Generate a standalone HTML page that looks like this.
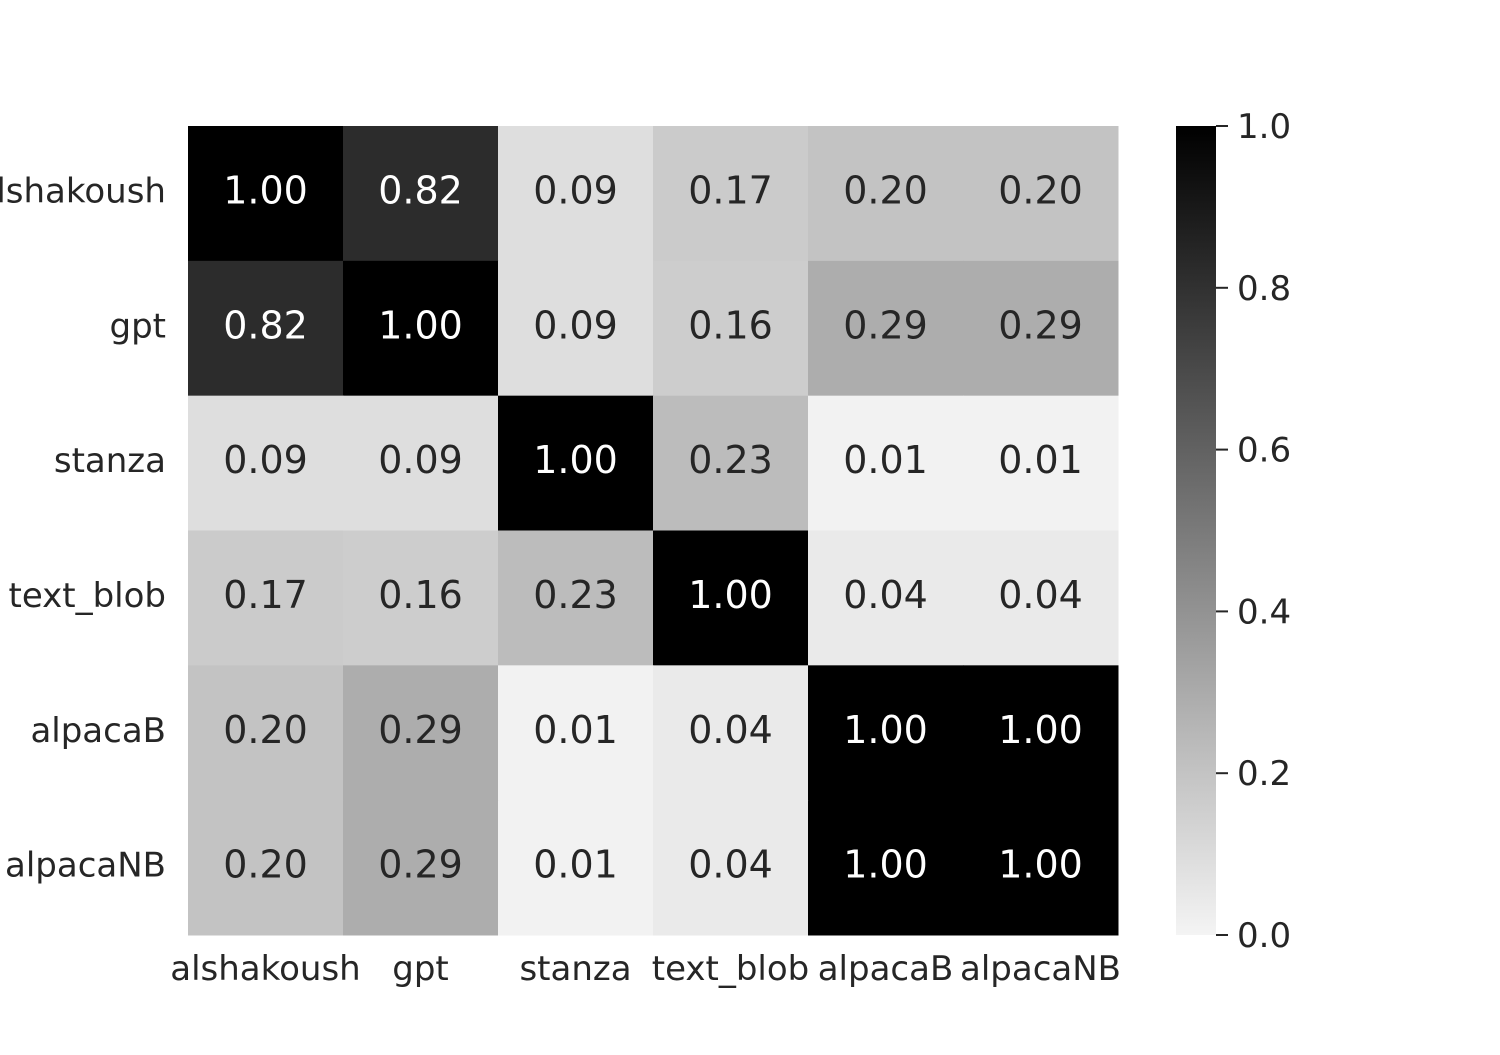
<!DOCTYPE html>
<html><head><meta charset="utf-8"><style>
body{margin:0;background:#fff;}
svg text{font-family:"DejaVu Sans","Liberation Sans",sans-serif;}
</style></head><body>
<svg id="chart" width="1500" height="1050" xmlns="http://www.w3.org/2000/svg">
<defs><linearGradient id="cbg" x1="0" y1="1" x2="0" y2="0">
<stop offset="0" stop-color="rgb(244,244,244)"/><stop offset="1" stop-color="rgb(0,0,0)"/></linearGradient></defs>
<g id="cells"></g>
<rect x="1176" y="126" width="40" height="809" fill="url(#cbg)"/>
<g id="cbticks"></g>
</svg>
<script>
const labels=["alshakoush","gpt","stanza","text_blob","alpacaB","alpacaNB"];
const values=[
[1.00,0.82,0.09,0.17,0.20,0.20],
[0.82,1.00,0.09,0.16,0.29,0.29],
[0.09,0.09,1.00,0.23,0.01,0.01],
[0.17,0.16,0.23,1.00,0.04,0.04],
[0.20,0.29,0.01,0.04,1.00,1.00],
[0.20,0.29,0.01,0.04,1.00,1.00]];
const cbTicks=[0.0,0.2,0.4,0.6,0.8,1.0];
const NS="http://www.w3.org/2000/svg";
const x0=188,y0=126,cw=155,ch=809/6;
const cbX=1176,cbW=40,cbTop=126,cbBot=935;
function col(v){const g=Math.round(244*(1-v));return `rgb(${g},${g},${g})`;}
function mk(t,a,p){const e=document.createElementNS(NS,t);for(const k in a)e.setAttribute(k,a[k]);p.appendChild(e);return e;}
const cells=document.getElementById('cells');
values.forEach((row,i)=>row.forEach((v,j)=>{
 const r=mk('rect',{x:x0+j*cw,y:y0+i*ch,width:cw+0.5,height:ch+0.5,fill:col(v)},cells);
 
 
 const t=mk('text',{x:x0+j*cw+cw/2,y:y0+i*ch+ch/2+10,'text-anchor':'middle','font-size':38,fill:v>0.5?'#fff':'#262626'},cells);
 t.textContent=v.toFixed(2);
 
 
}));
labels.forEach((l,i)=>{
 const t=mk('text',{x:166,y:y0+i*ch+ch/2+9,'text-anchor':'end','font-size':34,fill:'#262626'},cells);
 t.textContent=l;
 
 
 const u=mk('text',{x:x0+i*cw+cw/2,y:980,'text-anchor':'middle','font-size':34,fill:'#262626'},cells);
 u.textContent=l;
 
 
});
const cbt=document.getElementById('cbticks');
cbTicks.forEach(v=>{
 const y=cbBot-(cbBot-cbTop)*v;
 const ln=mk('line',{x1:cbX+cbW,x2:cbX+cbW+12,y1:y,y2:y,stroke:'#262626','stroke-width':2},cbt);
 
 
 const t=mk('text',{x:1237,y:y+12,'font-size':34,fill:'#262626'},cbt);
 t.textContent=v.toFixed(1);
 
 
});
</script>
</body></html>
